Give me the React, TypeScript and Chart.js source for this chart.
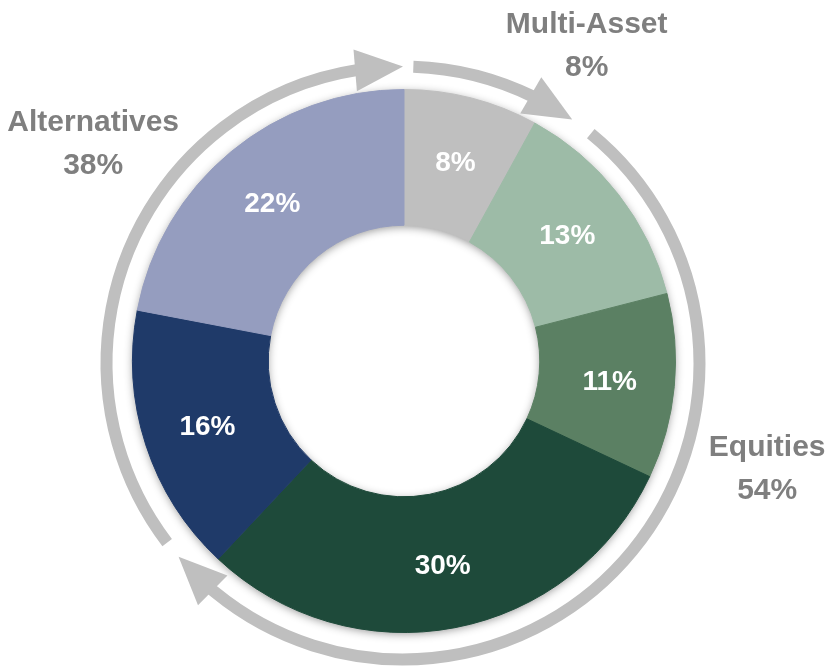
import React, { useEffect, useRef } from "react";
import { Chart, registerables } from "chart.js";

Chart.register(...registerables);

// ---- data ----
const categories = [
  "Multi-Asset",
  "Equities A",
  "Equities B",
  "Equities C",
  "Alternatives A",
  "Alternatives B",
];
const values = [8, 13, 11, 30, 16, 22];
const sliceColors = ["#BFBFBF", "#9DBBA7", "#5B8063", "#1E4A3A", "#1F3A69", "#959DBF"];

const groupNames = ["Multi-Asset", "Equities", "Alternatives"];
const groupMembers = [[0], [1, 2, 3], [4, 5]];

// ---- decoration layout (angles in degrees, relative to group boundaries) ----
const arrowStartGap = [2, 10.5, 9.5];
const arrowTipOverrun = [6, 6, 0];
const groupLabelAngle = [29.9, 106.2, 305.2]; // clockwise from top
const groupLabelRadius = [1.35, 1.393, 1.401]; // x outer radius

const FONT = '"Liberation Sans", Arial, sans-serif';
const RING_COLOR = "#BFBFBF";
const LABEL_GRAY = "#7F7F7F";

const deg = Math.PI / 180;

const decoPlugin = {
  id: "deco",
  beforeDatasetsDraw(chart: any) {
    const meta = chart.getDatasetMeta(0);
    const a0: any = meta.data[0];
    if (!a0) return;
    const { x, y, outerRadius, innerRadius } = a0.getProps(
      ["x", "y", "outerRadius", "innerRadius"],
      true
    );
    const ctx = chart.ctx;
    ctx.save();
    ctx.shadowColor = "rgba(0,0,0,0.45)";
    ctx.shadowBlur = 10;
    ctx.shadowOffsetY = 2;
    ctx.beginPath();
    ctx.arc(x, y, outerRadius - 1, 0, Math.PI * 2);
    ctx.arc(x, y, innerRadius + 1, 0, Math.PI * 2, true);
    ctx.closePath();
    ctx.fillStyle = "#ffffff";
    ctx.fill();
    ctx.restore();
  },
  afterDatasetsDraw(chart: any) {
    const meta = chart.getDatasetMeta(0);
    const arcs: any[] = meta.data;
    if (!arcs.length) return;
    const ctx = chart.ctx;
    const p0 = arcs[0].getProps(["x", "y", "outerRadius", "innerRadius"], true);
    const cx = p0.x;
    const cy = p0.y;
    const R = p0.outerRadius;
    const r = p0.innerRadius;

    // ring with arrows
    const rcx = cx - 1;
    const rcy = cy + 2;
    const ringR = R * 1.092;
    const ringW = 12;
    const headLen = 48;
    const headW = 42;
    const headAng = headLen / ringR;

    groupMembers.forEach((members, g) => {
      const first = arcs[members[0]].getProps(["startAngle"], true).startAngle;
      const last = arcs[members[members.length - 1]].getProps(["endAngle"], true).endAngle;
      const start = first + arrowStartGap[g] * deg;
      const tip = last + arrowTipOverrun[g] * deg;
      const base = tip - headAng;
      ctx.save();
      ctx.strokeStyle = RING_COLOR;
      ctx.lineWidth = ringW;
      ctx.lineCap = "butt";
      ctx.beginPath();
      ctx.arc(rcx, rcy, ringR, start, base + 0.01);
      ctx.stroke();
      const tx = rcx + ringR * Math.cos(tip);
      const ty = rcy + ringR * Math.sin(tip);
      const bx = rcx + ringR * Math.cos(base);
      const by = rcy + ringR * Math.sin(base);
      const dx = tx - bx;
      const dy = ty - by;
      const len = Math.hypot(dx, dy) || 1;
      const nx = -dy / len;
      const ny = dx / len;
      ctx.fillStyle = RING_COLOR;
      ctx.beginPath();
      ctx.moveTo(tx, ty);
      ctx.lineTo(bx + (nx * headW) / 2, by + (ny * headW) / 2);
      ctx.lineTo(bx - (nx * headW) / 2, by - (ny * headW) / 2);
      ctx.closePath();
      ctx.fill();
      ctx.restore();
    });

    // inner value labels
    const total = values.reduce((s, v) => s + v, 0);
    ctx.save();
    ctx.fillStyle = "#FFFFFF";
    ctx.textAlign = "center";
    ctx.textBaseline = "alphabetic";
    const inSize = 28;
    ctx.font = `bold ${inSize}px ${FONT}`;
    arcs.forEach((arc: any, i: number) => {
      const { startAngle, endAngle } = arc.getProps(["startAngle", "endAngle"], true);
      const mid = (startAngle + endAngle) / 2;
      const rad = (R + r) / 2 + 3;
      const lx = cx + rad * Math.cos(mid);
      const ly = cy + rad * Math.sin(mid);
      const pct = Math.round((values[i] / total) * 100);
      ctx.fillText(`${pct}%`, lx, ly + (0.716 * inSize) / 2);
    });
    ctx.restore();

    // group labels
    ctx.save();
    ctx.fillStyle = LABEL_GRAY;
    ctx.textAlign = "center";
    ctx.textBaseline = "alphabetic";
    const outSize = 30;
    ctx.font = `bold ${outSize}px ${FONT}`;
    groupMembers.forEach((members, g) => {
      const sum = members.reduce((s, i) => s + values[i], 0);
      const pct = Math.round((sum / total) * 100);
      const a = groupLabelAngle[g] * deg;
      const rad = R * groupLabelRadius[g];
      const lx = cx + rad * Math.sin(a);
      const ly = cy - rad * Math.cos(a);
      const half = 0.716 * outSize * 0.5;
      ctx.fillText(groupNames[g], lx, ly - 21.5 + half);
      ctx.fillText(`${pct}%`, lx, ly + 21.5 + half);
    });
    ctx.restore();
  },
};

export default function App() {
  const ref = useRef<HTMLCanvasElement | null>(null);
  useEffect(() => {
    if (!ref.current) return;
    const chart = new Chart(ref.current, {
      type: "doughnut",
      data: {
        labels: categories,
        datasets: [
          {
            data: values,
            backgroundColor: sliceColors,
            borderColor: sliceColors,
            borderWidth: 1,
            hoverOffset: 0,
          },
        ],
      },
      options: {
        responsive: false,
        animation: false,
        cutout: "50%",
        layout: { padding: { left: 132, right: 160, top: 89, bottom: 38 } },
        plugins: {
          legend: { display: false },
          tooltip: { enabled: false },
        },
        events: [],
      },
      plugins: [decoPlugin],
    });
    return () => chart.destroy();
  }, []);
  return (
    <div style={{ position: "fixed", left: 0, top: 0, width: 836, height: 671, background: "#fff" }}>
      <canvas ref={ref} width={836} height={671} style={{ display: "block", width: 836, height: 671 }} />
    </div>
  );
}
